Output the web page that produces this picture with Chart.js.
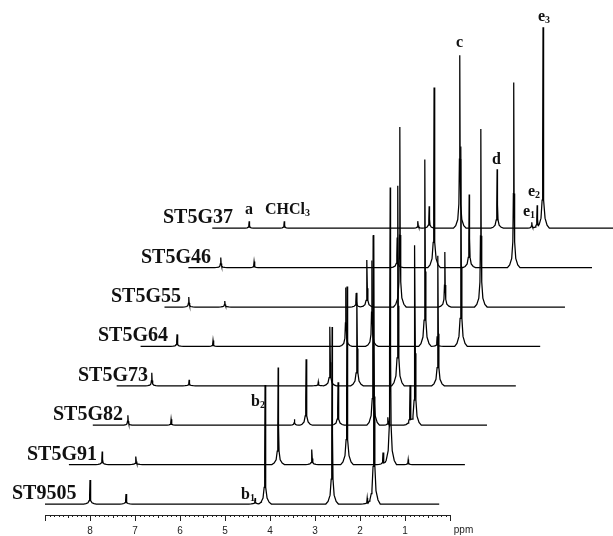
<!DOCTYPE html>
<html>
<head>
<meta charset="utf-8">
<script src="https://cdn.jsdelivr.net/npm/chart.js@4"></script>
<style>
  html, body { margin: 0; padding: 0; background: #fff; }
  #wrap { width: 613px; height: 536px; position: relative; }
</style>
</head>
<body>
<div id="wrap"><canvas id="nmr"></canvas></div>
<script>
// sample names, bottom trace first
const traceNames = ['ST9505', 'ST5G91', 'ST5G82', 'ST5G73', 'ST5G64', 'ST5G55', 'ST5G46', 'ST5G37'];

// peaks: [chemical shift (ppm), peak height]
const peaksST9505 = [[8.00, 24], [7.20, 10], [4.33, 6], [4.11, 119], [2.62, 177], [1.84, 6], [1.69, 269]];
const peaksST5G91 = [[8.26, 13], [7.51, 8], [4.35, 97], [3.60, 15], [2.82, 178], [2.02, 12], [1.86, 277], [1.46, 5]];
const peaksST5G82 = [[8.22, 10], [7.26, 6], [4.52, 6], [4.26, 66], [3.55, 43], [2.77, 190], [2.44, 8], [1.95, 40], [1.84, 180]];
const peaksST5G73 = [[8.22, 13], [7.39, 6], [4.52, 4], [4.26, 59], [3.66, 93], [2.75, 200], [1.86, 130]];
const peaksST5G64 = [[8.19, 12], [7.39, 6], [4.44, 59], [3.86, 86], [2.68, 187], [2.41, 10], [1.88, 200]];
const peaksST5G55 = [[8.46, 10], [7.66, 6], [4.74, 14], [4.50, 47], [3.77, 180], [2.77, 55], [1.97, 178]];
const peaksST5G46 = [[8.28, 10], [7.54, 6], [4.36, 30], [3.54, 180], [2.76, 73], [1.77, 185]];
const peaksST5G37 = [[8.18, 7], [7.40, 7], [4.43, 7], [4.18, 22], [3.50, 173], [2.67, 59], [1.90, 6], [1.78, 23], [1.65, 201]];

const allPeaks = [peaksST9505, peaksST5G91, peaksST5G82, peaksST5G73, peaksST5G64, peaksST5G55, peaksST5G46, peaksST5G37];

// recorded range of each spectrum (ppm)
const traceStart = [9.0, 9.0, 9.0, 9.0, 9.0, 9.0, 9.0, 9.0];
const traceEnd = [0.24, 0.2, 0.24, 0.13, 0.12, 0.1, 0.03, -0.2];

// axis ticks
const tickValues = [8, 7, 6, 5, 4, 3, 2, 1];
const tickLabels = ['8', '7', '6', '5', '4', '3', '2', '1'];

// stacking offsets between spectra
const shiftX = 0.531;
const shiftY = 39.4;

// half line shape used for every peak: [distance from centre (ppm), fraction of height]
const peakShape = [[0, 1], [0.008, 0.4], [0.02, 0.14], [0.045, 0.05], [0.09, 0.015], [0.14, 0]];

function shapeAt(dist) {
    for (let i = 1; i < peakShape.length; i++) {
        const [d0, f0] = peakShape[i - 1], [d1, f1] = peakShape[i];
        if (dist <= d1) return f0 + (f1 - f0) * (dist - d0) / (d1 - d0);
    }
    return 0;
}

function buildTrace(peaks, k) {
    const ox = k * shiftX, oy = k * shiftY;
    const xs = [traceStart[k], traceEnd[k]];
    peaks.forEach(([ppm]) => peakShape.forEach(([d]) => { xs.push(ppm + d); if (d) xs.push(ppm - d); }));
    return xs.sort((a, b) => b - a).map(x => {
        let y = 0;
        peaks.forEach(([ppm, h]) => { y = Math.max(y, h * shapeAt(Math.abs(x - ppm))); });
        return { x: x - ox, y: y + oy };
    });
}

const datasets = allPeaks.map((peaks, k) => ({
    label: traceNames[k],
    data: buildTrace(peaks, k),
    borderColor: '#000',
    borderWidth: 1.25,
    pointRadius: 0,
    tension: 0,
    fill: false
}));

// left edge of each sample name
const namePos = [12, 27, 53, 78, 98, 111, 141, 163];

const annotate = {
    id: 'annotate',
    afterDraw(chart) {
        const ctx = chart.ctx;
        const xs = chart.scales.x, ys = chart.scales.y;
        const axisY = Math.round(ys.getPixelForValue(-11));
        const x9 = xs.getPixelForValue(9), x0 = xs.getPixelForValue(0);

        ctx.save();
        ctx.strokeStyle = '#222';
        ctx.lineWidth = 1;
        ctx.beginPath();
        ctx.moveTo(x9, axisY + 0.5);
        ctx.lineTo(x0, axisY + 0.5);
        for (let i = 0; i <= 90; i++) {
            const px = Math.round(xs.getPixelForValue(i / 10)) + 0.5;
            const len = i % 10 === 0 ? 6 : (i % 5 === 0 ? 3 : 2);
            ctx.moveTo(px, axisY);
            ctx.lineTo(px, axisY + len);
        }
        ctx.stroke();

        ctx.fillStyle = '#222';
        ctx.font = '10px "Liberation Sans", Arial, sans-serif';
        ctx.textAlign = 'center';
        ctx.textBaseline = 'middle';
        tickValues.forEach((v, i) => ctx.fillText(tickLabels[i], xs.getPixelForValue(v), axisY + 16));
        ctx.fillText('ppm', xs.getPixelForValue(-0.3), axisY + 15);

        // sample names
        ctx.fillStyle = '#111';
        ctx.font = 'bold 20px "Liberation Serif", "Times New Roman", serif';
        ctx.textAlign = 'left';
        ctx.textBaseline = 'alphabetic';
        traceNames.forEach((n, k) => {
            ctx.fillText(n, namePos[k], ys.getPixelForValue(k * shiftY) - 5);
        });

        // peak letters
        const big = 'bold 16px "Liberation Serif", "Times New Roman", serif';
        const sub = 'bold 10px "Liberation Serif", "Times New Roman", serif';
        function label(txt, subTxt, x, y) {
            ctx.font = big;
            const w = ctx.measureText(txt).width;
            ctx.fillText(txt, x, y);
            if (subTxt) {
                ctx.font = sub;
                ctx.fillText(subTxt, x + w, y + 2);
            }
        }
        label('a', '', 245, 214);
        label('CHCl', '3', 265, 214);
        label('c', '', 456, 47);
        label('d', '', 492, 164);
        label('e', '3', 538, 21);
        label('e', '2', 528, 196);
        label('e', '1', 523, 216);
        label('b', '2', 251, 406);
        label('b', '1', 241, 499);
        ctx.restore();
    }
};

new Chart(document.getElementById('nmr'), {
    type: 'line',
    data: { datasets },
    options: {
        responsive: true,
        maintainAspectRatio: false,
        animation: false,
        events: [],
        layout: { padding: 0 },
        plugins: { legend: { display: false }, tooltip: { enabled: false } },
        scales: {
            x: { type: 'linear', reverse: true, min: -3.622, max: 10, display: false },
            y: { type: 'linear', min: -32, max: 504, display: false }
        }
    },
    plugins: [annotate]
});
</script>
</body>
</html>
